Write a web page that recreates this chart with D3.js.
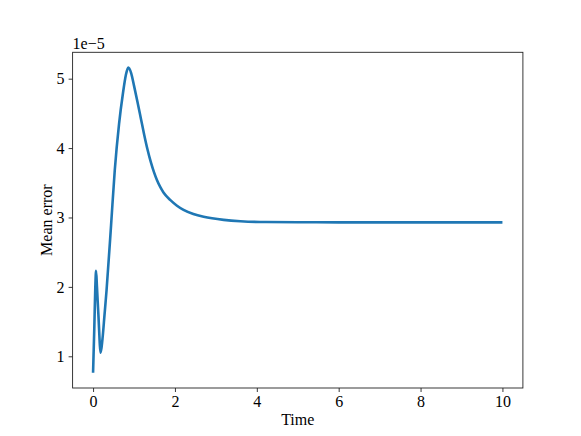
<!DOCTYPE html>
<html>
<head>
<meta charset="utf-8">
<script src="https://cdn.jsdelivr.net/npm/d3@7"></script>
<style>
  html, body { margin: 0; padding: 0; background: #fff; }
  svg { display: block; }
  text { font-family: "Liberation Serif", "Times New Roman", serif; fill: #000; }
</style>
</head>
<body>
<svg id="chart" width="581" height="436"></svg>
<script>
// Data (values in units of 1e-5)
const time = [0, 0.03, 0.055, 0.073, 0.095, 0.13, 0.186, 0.23, 0.28, 0.33, 0.44, 0.53, 0.635, 0.73, 0.80, 0.86, 0.93, 1.0, 1.09, 1.17, 1.25, 1.33, 1.415, 1.49, 1.56, 1.64, 1.72, 1.89, 2.05, 2.21, 2.45, 2.70, 3.19, 3.6, 4.08, 5, 6, 7, 8, 9, 10];
const meanError = [0.764, 1.4, 2.0, 2.23, 2.0, 1.6, 1.05, 1.25, 1.6, 1.955, 2.89, 3.68, 4.35, 4.79, 5.05, 5.16, 5.08, 4.9, 4.65, 4.42, 4.19, 3.98, 3.79, 3.65, 3.54, 3.44, 3.36, 3.25, 3.17, 3.11, 3.05, 3.01, 2.965, 2.945, 2.935, 2.932, 2.93, 2.93, 2.93, 2.93, 2.93];
const xTicks = [0, 2, 4, 6, 8, 10];
const yTicks = [1, 2, 3, 4, 5];
const xLabel = "Time";
const yLabel = "Mean error";
const offsetText = "1e\u22125";

const svg = d3.select("#chart");
const L = 72.6, R = 522.9, T = 52.3, B = 388;

const x = d3.scaleLinear().domain([-0.5, 10.5]).range([L, R]);
const y = d3.scaleLinear().domain([0.543, 5.38]).range([B, T]);

const fs = 16;

// axes
const xAxis = svg.append("g").attr("transform", `translate(0,${B})`)
  .call(d3.axisBottom(x).tickValues(xTicks).tickSize(4).tickPadding(4).tickFormat(d3.format("d")));
const yAxis = svg.append("g").attr("transform", `translate(${L},0)`)
  .call(d3.axisLeft(y).tickValues(yTicks).tickSize(4).tickPadding(4).tickFormat(d3.format("d")));
[xAxis, yAxis].forEach(g => {
  g.select(".domain").remove();
  g.selectAll(".tick line").attr("stroke", "#222").attr("stroke-width", 0.9);
  g.selectAll(".tick text").style("font-family", "Liberation Serif").style("font-size", fs + "px").attr("fill", "#000");
});

// frame
svg.append("rect").attr("x", L).attr("y", T).attr("width", R - L).attr("height", B - T)
  .attr("fill", "none").attr("stroke", "#222").attr("stroke-width", 0.9);

// line
const pts = time.map((t, i) => [t, meanError[i]]);
svg.append("path").datum(pts)
  .attr("fill", "none").attr("stroke", "#1f77b4").attr("stroke-width", 2.6)
  .attr("stroke-linejoin", "round").attr("stroke-linecap", "butt")
  .attr("d", d3.line().x(d => x(d[0])).y(d => y(d[1])).curve(d3.curveMonotoneX));

// labels
svg.append("text").attr("x", (L + R) / 2).attr("y", 425).attr("text-anchor", "middle")
  .style("font-size", fs + "px").text(xLabel);
svg.append("text").attr("transform", `translate(52,${(T + B) / 2}) rotate(-90)`)
  .attr("text-anchor", "middle").style("font-size", fs + "px").text(yLabel);
svg.append("text").attr("x", L).attr("y", 49).attr("text-anchor", "start")
  .style("font-size", fs + "px").text(offsetText);
</script>
</body>
</html>
